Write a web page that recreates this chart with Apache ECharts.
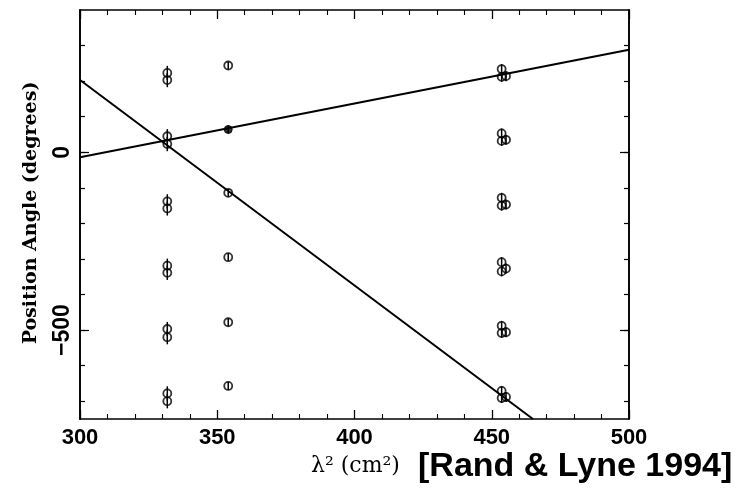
<!DOCTYPE html>
<html>
<head>
<meta charset="utf-8">
<script src="https://cdn.jsdelivr.net/npm/echarts@6/dist/echarts.min.js"></script>
<style>html,body{margin:0;padding:0;background:#fff;}#c{width:740px;height:496px;}</style>
</head>
<body>
<div id="c"></div>
<script>
// ---- data (λ² in cm², position angle in degrees) ----
var obsA_x = 331.8;
var obsA_pa = [223, 203, 45, 23, -138, -158, -319, -339, -497, -520, -678, -700];
var obsA_err = 20;
var obsB_x = 354;
var obsB_pa = [244, -114, -295, -478, -657];
var obsB_err = 11;
var obsB_fill_pa = [64];
var obsC1_x = 453.6;
var obsC1_pa = [234, 212, 53, 32, -128, -150, -309, -335, -488, -508, -671, -691];
var obsC2_x = 455.2;
var obsC2_pa = [214, 35, -147, -327, -506, -688];
var obsC_err = 14;
var fit1_x = [300, 500];
var fit1_pa = [-14, 288];
var fit2_x = [300, 465];
var fit2_pa = [203, -750];
var xTickLabels = [300, 350, 400, 450, 500];
var yTickLabels = [0, -500];
var yMinorTicks = [300, 200, 100, 0, -100, -200, -300, -400, -500, -600, -700];

function pts(x, arr, err) { return arr.map(function (v) { return [x, v, err]; }); }
var openPts = [].concat(pts(obsA_x, obsA_pa, obsA_err), pts(obsB_x, obsB_pa, obsB_err),
  pts(obsC1_x, obsC1_pa, obsC_err), pts(obsC2_x, obsC2_pa, obsC_err));
var filledPts = pts(obsB_x, obsB_fill_pa, obsB_err);
function line(xs, ys) { return xs.map(function (x, i) { return [x, ys[i]]; }); }

var chart = echarts.init(document.getElementById('c'));
var lineStyleAx = { color: '#000', width: 1.6 };
var labFont = { fontFamily: 'Liberation Sans', fontWeight: 'bold', fontSize: 22, color: '#000' };

function xAx(pos, showLab) {
  return {
    type: 'value', min: 300, max: 500, interval: 50, position: pos,
    axisLine: { show: true, lineStyle: lineStyleAx, onZero: false },
    axisTick: { show: true, inside: true, length: 9, lineStyle: { color: '#000', width: 1.3 } },
    minorTick: { show: true, splitNumber: 5, length: 5, lineStyle: { color: '#000', width: 1.1 } },
    axisLabel: Object.assign({ show: showLab, margin: 8,
      formatter: function (v) { return xTickLabels.indexOf(v) >= 0 ? String(v) : ''; } }, labFont),
    splitLine: { show: false }, minorSplitLine: { show: false }
  };
}
function yAx(pos, showLab, ticks, len) {
  return {
    type: 'value', min: -750, max: 400, position: pos,
    axisLine: { show: true, lineStyle: lineStyleAx, onZero: false },
    axisTick: { show: true, inside: true, length: len, customValues: ticks, lineStyle: { color: '#000', width: 1.2 } },
    axisLabel: Object.assign({ show: showLab, rotate: 90, margin: 6, customValues: yTickLabels,
      formatter: function (v) { return v < 0 ? '\u2212' + Math.abs(v) : String(v); } }, labFont, { fontSize: 23 }),
    splitLine: { show: false }
  };
}

var option = {
  animation: false,
  backgroundColor: '#fff',
  grid: { left: 80, right: 111, top: 10, bottom: 77, containLabel: false },
  xAxis: [xAx('bottom', true), xAx('top', false)],
  yAxis: [yAx('left', true, yMinorTicks, 5), yAx('right', false, yMinorTicks, 5),
          yAx('left', false, yTickLabels, 9), yAx('right', false, yTickLabels, 9)],
  graphic: [
    { type: 'text', x: 31, y: 213, rotation: Math.PI / 2,
      style: { text: 'Position Angle (degrees)', font: 'bold 19px "DejaVu Serif"', fill: '#000',
        align: 'center', verticalAlign: 'middle' } },
    { type: 'text', x: 311, y: 466,
      style: { text: '\u03bb\u00b2 (cm\u00b2)', font: '22px "DejaVu Serif"', fill: '#000', verticalAlign: 'middle' } },
    { type: 'text', x: 418, y: 467,
      style: { text: '[Rand & Lyne 1994]', font: 'bold 34px "Liberation Sans"', fill: '#000', verticalAlign: 'middle' } }
  ],
  series: [
    { type: 'line', data: line(fit1_x, fit1_pa), showSymbol: false, symbol: 'none', clip: true,
      lineStyle: { color: '#000', width: 2 } },
    { type: 'line', data: line(fit2_x, fit2_pa), showSymbol: false, symbol: 'none', clip: true,
      lineStyle: { color: '#000', width: 2 } },
    { type: 'custom', data: openPts.concat(filledPts),
      renderItem: function (params, api) {
        var x = api.value(0), y = api.value(1), e = api.value(2);
        var p1 = api.coord([x, y - e]), p2 = api.coord([x, y + e]);
        return { type: 'line', shape: { x1: p1[0], y1: p1[1], x2: p2[0], y2: p2[1] },
          style: { stroke: '#000', lineWidth: 1.5 } };
      }, z: 3 },
    { type: 'scatter', data: openPts, symbol: 'circle', symbolSize: 8,
      itemStyle: { color: 'rgba(0,0,0,0)', borderColor: '#000', borderWidth: 1.8 }, z: 4 },
    { type: 'scatter', data: filledPts, symbol: 'circle', symbolSize: 8,
      itemStyle: { color: '#000', borderColor: '#000', borderWidth: 1 }, z: 4 }
  ]
};
chart.setOption(option);
</script>
</body>
</html>
